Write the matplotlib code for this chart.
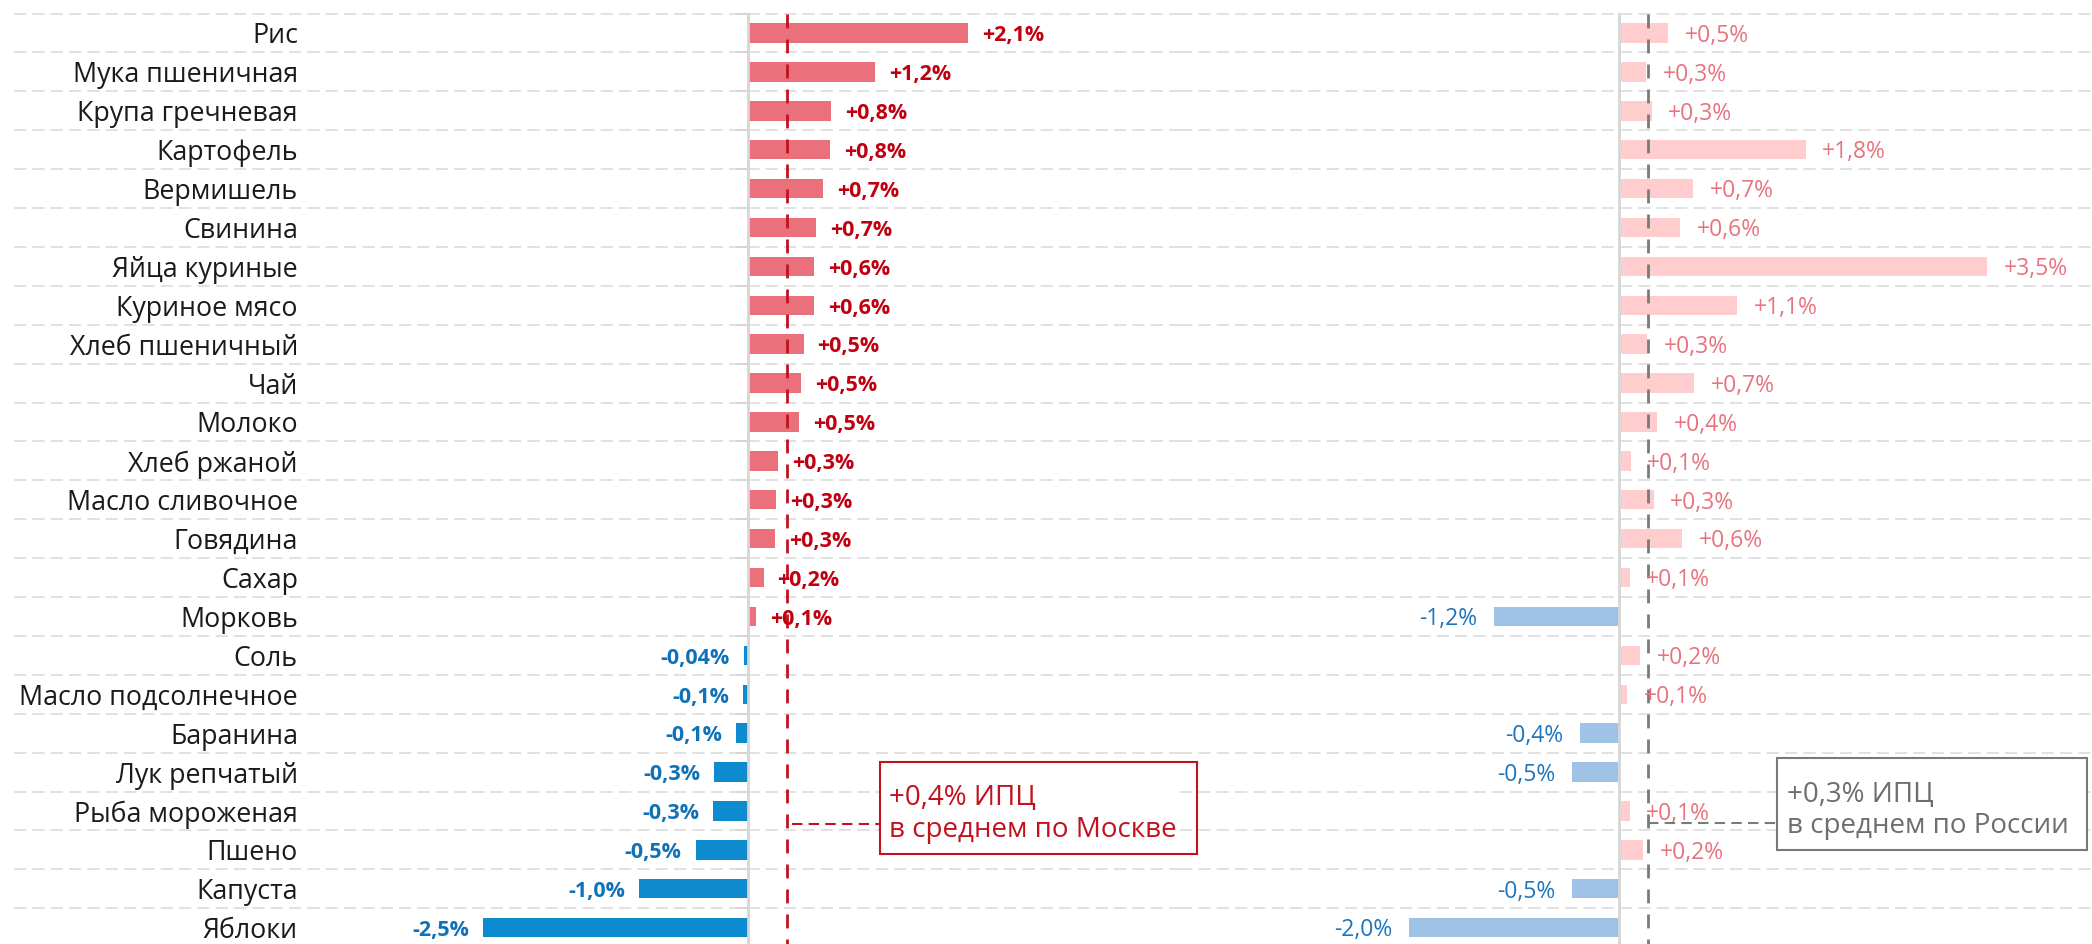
import numpy as np
import matplotlib.pyplot as plt
from matplotlib.patches import Rectangle

plt.rcParams['font.family'] = ['Open Sans', 'DejaVu Sans']

products = ["Рис", "Мука пшеничная", "Крупа гречневая", "Картофель", "Вермишель",
            "Свинина", "Яйца куриные", "Куриное мясо", "Хлеб пшеничный", "Чай",
            "Молоко", "Хлеб ржаной", "Масло сливочное", "Говядина", "Сахар",
            "Морковь", "Соль", "Масло подсолнечное", "Баранина", "Лук репчатый",
            "Рыба мороженая", "Пшено", "Капуста", "Яблоки"]

moscow = [2.10, 1.21, 0.79, 0.78, 0.72, 0.65, 0.63, 0.63, 0.53, 0.51, 0.49, 0.29,
          0.27, 0.26, 0.15, 0.08, -0.04, -0.05, -0.11, -0.32, -0.33, -0.50, -1.04, -2.53]
moscow_labels = ["+2,1%", "+1,2%", "+0,8%", "+0,8%", "+0,7%", "+0,7%", "+0,6%", "+0,6%",
                 "+0,5%", "+0,5%", "+0,5%", "+0,3%", "+0,3%", "+0,3%", "+0,2%", "+0,1%",
                 "-0,04%", "-0,1%", "-0,1%", "-0,3%", "-0,3%", "-0,5%", "-1,0%", "-2,5%"]

russia = [0.47, 0.26, 0.31, 1.78, 0.71, 0.58, 3.51, 1.13, 0.27, 0.72, 0.36, 0.11,
          0.33, 0.60, 0.10, -1.19, 0.20, 0.08, -0.37, -0.45, 0.10, 0.23, -0.45, -2.00]
russia_labels = ["+0,5%", "+0,3%", "+0,3%", "+1,8%", "+0,7%", "+0,6%", "+3,5%", "+1,1%",
                 "+0,3%", "+0,7%", "+0,4%", "+0,1%", "+0,3%", "+0,6%", "+0,1%", "-1,2%",
                 "+0,2%", "+0,1%", "-0,4%", "-0,5%", "+0,1%", "+0,2%", "-0,5%", "-2,0%"]

cpi_moscow = 0.37
cpi_russia = 0.28

W, H = 2092, 944
fig = plt.figure(figsize=(W / 100, H / 100), dpi=100)
split = 1180 / W
ax1 = fig.add_axes([0, 0, split, 1])
ax2 = fig.add_axes([split, 0, 1 - split, 1])

n = len(products)
y = np.arange(n)
ytop, ybot = -0.848, 23.42
grid_y = np.arange(n) - 0.5

RED_DARK = '#c1121f'
GREY = '#7a7a7a'

for ax in (ax1, ax2):
    ax.set_ylim(ybot, ytop)
    for s in ('top', 'right', 'bottom'):
        ax.spines[s].set_visible(False)
    ax.spines['left'].set_position(('data', 0))
    ax.spines['left'].set_color('#d6d6d6')
    ax.spines['left'].set_linewidth(2)
    ax.spines['left'].set_bounds(-0.5, ybot)
    ax.set_xticks([])
    ax.set_yticks(grid_y)
    ax.set_yticklabels([])
    ax.set_facecolor('none')

ax1.set_xlim(-7.137, 4.122)
ax2.set_xlim(-4.189, 4.513)
ax1.tick_params(axis='y', length=9, width=1.5, color='#d6d6d6')
ax2.tick_params(axis='y', length=0)

ax1.hlines(grid_y, -7.0, 4.122, colors='#d9d9d9', lw=1.1, linestyles=(0, (8, 4)), zorder=0)
ax2.hlines(grid_y, -4.189, 4.513, colors='#d9d9d9', lw=1.1, linestyles=(0, (8, 4)), zorder=0)

# Moscow panel
m = np.array(moscow)
ax1.barh(y, m, height=0.5, color=np.where(m >= 0, '#ea717b', '#0e8bcf'), zorder=2)
for i, (v, lab) in enumerate(zip(moscow, moscow_labels)):
    pos = v >= 0
    ax1.annotate(lab, (v, i), xytext=(10 if pos else -10, -2), textcoords='offset points',
                 ha='left' if pos else 'right', va='center', fontsize=15.5,
                 fontweight='bold', color='#c00010' if pos else '#0f72b8', zorder=4)
for i, name in enumerate(products):
    ax1.annotate(name, (-4.294, i), xytext=(0, -2.5), textcoords='offset points',
                 ha='right', va='center', fontsize=19.3, color='#1a1a1a')

# Russia panel
r = np.array(russia)
ax2.barh(y, r, height=0.5, color=np.where(r >= 0, '#ffcdcd', '#9fc3e6'), zorder=2)
for i, (v, lab) in enumerate(zip(russia, russia_labels)):
    pos = v >= 0
    ax2.annotate(lab, (v, i), xytext=(12 if pos else -12, -2), textcoords='offset points',
                 ha='left' if pos else 'right', va='center', fontsize=16.5,
                 color='#e8737f' if pos else '#1d75bd', zorder=4)

# average CPI lines
ax1.vlines(cpi_moscow, -0.5, ybot, colors=RED_DARK, lw=2, linestyles=(0, (5, 4)), zorder=3)
ax2.vlines(cpi_russia, -0.5, ybot, colors=GREY, lw=2, linestyles=(0, (5, 4)), zorder=3)

# callouts
ax1.add_patch(Rectangle((1.26, 18.74), 3.02, 2.36, fill=True, facecolor='white',
                        edgecolor=RED_DARK, lw=1.5, zorder=5, clip_on=False))
ax1.hlines(20.33, cpi_moscow + 0.05, 1.26, colors=RED_DARK, lw=1.5, linestyles=(0, (5, 3)), zorder=5)
ax1.text(1.345, 19.85, "+0,4% ИПЦ", ha='left', va='baseline', fontsize=20, color=RED_DARK, zorder=6)
ax1.text(1.345, 20.67, "в среднем по Москве", ha='left', va='baseline', fontsize=20,
         color=RED_DARK, zorder=6)

ax2.add_patch(Rectangle((1.51, 18.64), 2.96, 2.36, fill=True, facecolor='white',
                        edgecolor=GREY, lw=1.5, zorder=5, clip_on=False))
ax2.hlines(20.31, cpi_russia, 1.51, colors=GREY, lw=1.5, linestyles=(0, (5, 3)), zorder=5)
ax2.text(1.60, 19.77, "+0,3% ИПЦ", ha='left', va='baseline', fontsize=20, color='#6e6e6e', zorder=6)
ax2.text(1.60, 20.57, "в среднем по России", ha='left', va='baseline', fontsize=20,
         color='#6e6e6e', zorder=6)

fig.savefig("out.png", dpi=100)
